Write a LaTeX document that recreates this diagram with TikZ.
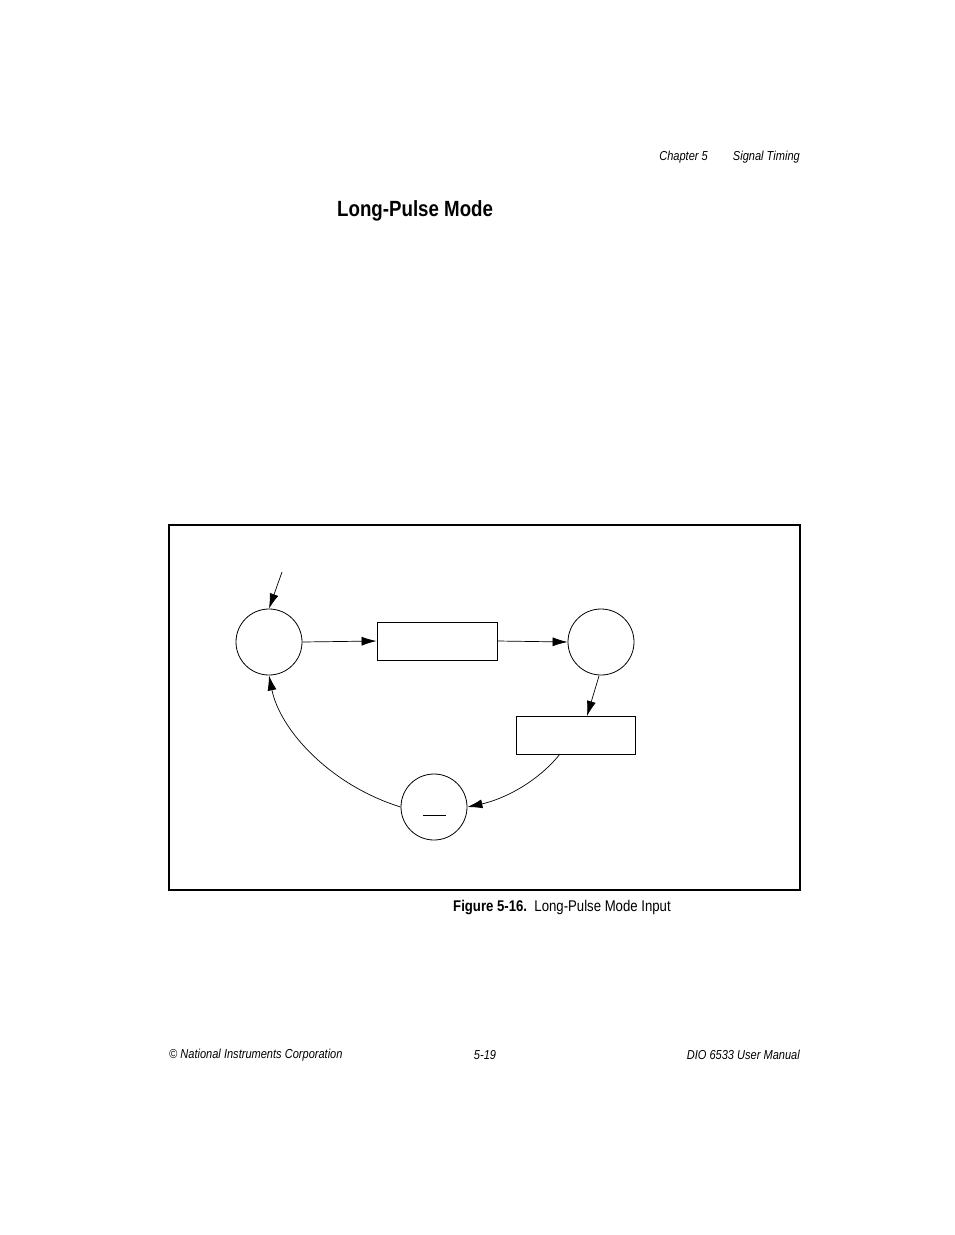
\documentclass[tikz,border=0pt]{standalone}
\usepackage{fontspec}
\setmainfont{Liberation Sans}
\newfontfamily\cond[FakeStretch=0.85]{Liberation Sans}
\usetikzlibrary{arrows.meta}
\begin{document}
\begin{tikzpicture}[x=1pt,y=-1pt,
  st/.style={draw,circle,minimum size=66pt,inner sep=0pt,line width=0.8pt},
  bx/.style={draw,rectangle,inner sep=0pt,line width=0.9pt},
  ar/.style={-{Latex[length=15pt,width=9pt]},line width=0.7pt},
  txt/.style={font=\cond\fontsize{13}{15}\selectfont\itshape,inner sep=0pt}]
\useasboundingbox[fill=white] (0,0) rectangle (954,1235);
\node[txt,anchor=east] (h1) at (708,157) {Chapter 5};
\node[txt,anchor=east] (h2) at (800,157) {Signal Timing};
\node[font=\cond\fontsize{22}{26}\selectfont\bfseries,anchor=west,inner sep=0pt] (title) at (337,211) {Long-Pulse Mode};
\draw[line width=2pt] (169,525) rectangle (800,890);
\node[st] (A) at (269,642) {};
\node[st] (B) at (601,642) {};
\node[st] (C) at (434,807) {};
\draw[line width=0.8pt] (423,815) -- (446,815);
\node[bx,minimum width=120pt,minimum height=38pt] (b1) at (437,641) {};
\node[bx,minimum width=119pt,minimum height=38pt] (b2) at (575.5,735) {};
\coordinate (s) at (282,572);
\coordinate (bs) at (599,676);
\coordinate (bt) at (587,716);
\coordinate (b2s) at (560,754);
\draw[ar] (s) -- (A.north);
\draw[ar] (A.east) -- (b1.west);
\draw[ar] (b1.east) -- (B.west);
\draw[ar] (bs) -- (bt);
\draw[ar] (b2s) .. controls (535,785) and (500,800) .. (C.east);
\draw[ar] (C.west) .. controls (330,785) and (280,730) .. (A.south);
\node[font=\cond\fontsize{15.5}{18}\selectfont,anchor=west,inner sep=0pt] (cap) at (453,908) {\textbf{Figure 5-16.}\ \ Long-Pulse Mode Input};
\node[txt,anchor=west] (f1) at (169,1055) {© National Instruments Corporation};
\node[txt,anchor=center] (f2) at (485,1055) {5-19};
\node[txt,anchor=east] (f3) at (800,1055) {DIO 6533 User Manual};
\end{tikzpicture}
\end{document}
